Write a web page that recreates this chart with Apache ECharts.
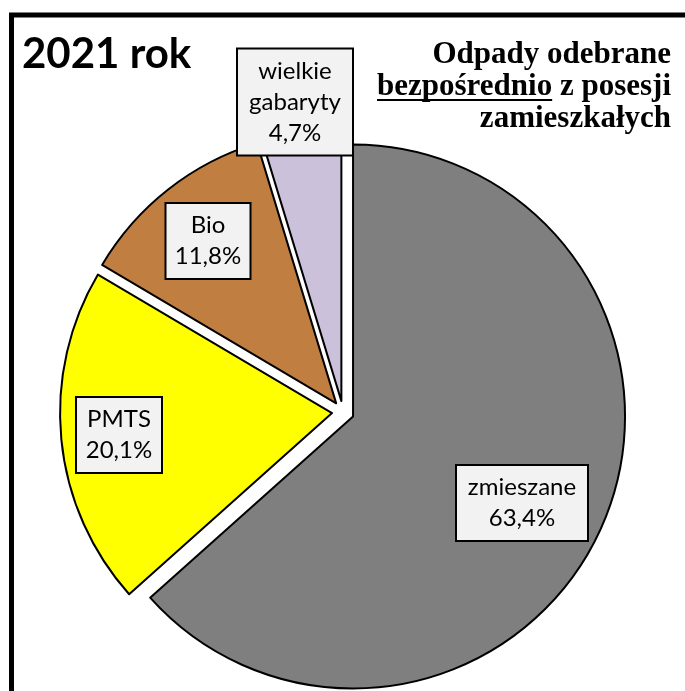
<!DOCTYPE html>
<html>
<head>
<meta charset="utf-8">
<script src="https://cdn.jsdelivr.net/npm/echarts@6/dist/echarts.min.js"></script>
<style>
  html, body { margin: 0; padding: 0; background: #fff; }
  #pie-odpady { width: 685px; height: 691px; }
</style>
</head>
<body>
<div id="pie-odpady"></div>
<script>
// dane
const categories = ['zmieszane', 'PMTS', 'Bio', 'wielkie gabaryty'];
const labelNames = ['zmieszane', 'PMTS', 'Bio', 'wielkie\ngabaryty'];
const shares = [63.4, 20.1, 11.8, 4.7];

// wyglad
const colors = ['#7f7f7f', '#ffff00', '#c07e40', '#ccc1da'];
const labelPos = [[522, 503], [119, 435], [208, 241], [295, 102]];
const labelWidth = [118, 72, 71, 102];

const titleFont = 'bold 31px "Liberation Serif"';
const measure = document.createElement('canvas').getContext('2d');
measure.font = titleFont;
const rightX = 671;
const wZPosesji = measure.measureText(' z posesji').width;
const wBezp = measure.measureText('bezpośrednio').width;

const chart = echarts.init(document.getElementById('pie-odpady'));

const option = {
  backgroundColor: '#fff',
  animation: false,
  graphic: [
    {
      type: 'rect', z: 100,
      shape: { x: 11.5, y: 15, width: 720, height: 720 },
      style: { fill: 'none', stroke: '#000', lineWidth: 5 }
    },
    {
      type: 'text', z: 100, x: 22, y: 54,
      style: { text: '2021 rok', font: 'bold 42px Lato', fill: '#000', textVerticalAlign: 'middle' }
    },
    {
      type: 'text', z: 100, x: rightX, y: 55,
      style: { text: 'Odpady odebrane', font: titleFont, fill: '#000', textAlign: 'right', textVerticalAlign: 'middle' }
    },
    {
      type: 'text', z: 100, x: rightX, y: 87,
      style: { text: ' z posesji', font: titleFont, fill: '#000', textAlign: 'right', textVerticalAlign: 'middle' }
    },
    {
      type: 'text', z: 100, x: rightX - wZPosesji, y: 87,
      style: { text: 'bezpośrednio', font: titleFont, fill: '#000', textAlign: 'right', textVerticalAlign: 'middle' }
    },
    {
      type: 'rect', z: 100,
      shape: { x: rightX - wZPosesji - wBezp, y: 99, width: wBezp, height: 2 },
      style: { fill: '#000' }
    },
    {
      type: 'text', z: 100, x: rightX, y: 119,
      style: { text: 'zamieszkałych', font: titleFont, fill: '#000', textAlign: 'right', textVerticalAlign: 'middle' }
    }
  ],
  series: [
    {
      // wycinki (rozsuniete)
      type: 'pie',
      center: [343, 412],
      radius: 272,
      startAngle: 90,
      clockwise: true,
      selectedMode: 'multiple',
      selectedOffset: 11,
      emphasis: { disabled: true },
      itemStyle: { borderColor: '#000', borderWidth: 2 },
      label: { show: false },
      labelLine: { show: false },
      data: categories.map((name, i) => ({
        name: name,
        value: shares[i],
        selected: true,
        itemStyle: { color: colors[i] }
      }))
    },
    {
      // etykiety danych
      type: 'pie',
      silent: true,
      center: [343, 412],
      radius: 272,
      startAngle: 90,
      clockwise: true,
      emphasis: { disabled: true },
      itemStyle: { color: 'rgba(0,0,0,0)', borderWidth: 0 },
      labelLine: { show: false },
      label: {
        show: true,
        position: 'inside',
        color: '#000',
        fontFamily: 'Lato',
        fontSize: 24,
        lineHeight: 31,
        align: 'center',
        verticalAlign: 'middle',
        backgroundColor: '#f2f2f2',
        borderColor: '#000',
        borderWidth: 2,
        padding: [6, 6],
        formatter: p => labelNames[p.dataIndex] + '\n' + p.value.toFixed(1).replace('.', ',') + '%'
      },
      labelLayout: p => ({
        x: labelPos[p.dataIndex][0],
        y: labelPos[p.dataIndex][1],
        align: 'center',
        verticalAlign: 'middle'
      }),
      data: categories.map((name, i) => ({
        name: name,
        value: shares[i],
        label: { width: labelWidth[i] }
      }))
    }
  ]
};

chart.setOption(option);
</script>
</body>
</html>
